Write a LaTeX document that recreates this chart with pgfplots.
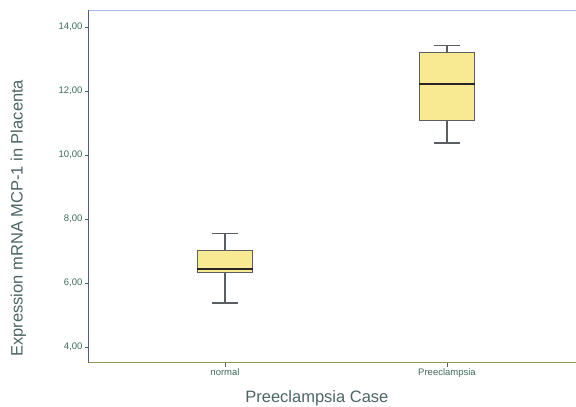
\documentclass[border=0pt]{standalone}
\usepackage{pgfplots}
\pgfplotsset{compat=1.18}
\usepackage{fontspec}
\setmainfont{Liberation Sans}

\definecolor{boxfill}{HTML}{F7EA92}
\definecolor{boxedge}{HTML}{5A5E62}
\definecolor{tickcol}{HTML}{3E6A5C}
\definecolor{labcol}{HTML}{4C6464}
\definecolor{leftcol}{HTML}{56606A}
\definecolor{bottomcol}{HTML}{8C9A58}
\definecolor{topcol}{HTML}{A9B8E6}

\begin{document}
\begin{tikzpicture}
\begin{axis}[
    name=ax,
    scale only axis,
    width=487pt, height=353pt,
    xmin=0.3874, xmax=2.581,
    ymin=3.5, ymax=14.53,
    clip=false,
    axis line style={draw=none},
    xtick={1,2},
    xticklabels={normal,Preeclampsia},
    ytick={4,6,8,10,12,14},
    xtick pos=bottom, ytick pos=left,
    tick align=outside,
    major tick length=4pt,
    every tick/.style={draw=leftcol, line width=0.9pt},
    /pgf/number format/fixed,
    /pgf/number format/fixed zerofill,
    /pgf/number format/precision=2,
    /pgf/number format/use comma,
    /pgf/number format/assume math mode=true,
    yticklabel style={font=\fontsize{9.5}{11}\selectfont, text=tickcol, xshift=1pt},
    xticklabel style={font=\fontsize{9.5}{11}\selectfont, text=tickcol, yshift=2pt},
    xlabel={Preeclampsia Case},
    ylabel={Expression mRNA MCP-1 in Placenta},
    label style={font=\fontsize{16.5}{18}\selectfont, text=labcol},
    xlabel style={at={(axis description cs:0.468,-0.099)}, anchor=center},
    ylabel style={at={(axis description cs:-0.145,0.41)}, anchor=center},
    whisk/.style={draw=boxedge, line width=1.1pt, mark=none},
    box/.style={draw=boxedge, fill=boxfill, line width=0.9pt, mark=none},
    med/.style={draw=black!85, line width=1.7pt, mark=none},
]
% normal: lw 5.375, q1 6.34, med 6.44, q3 7.03, uw 7.56
\addplot[whisk] coordinates {(1,7.03) (1,7.56)};
\addplot[whisk] coordinates {(1,6.34) (1,5.375)};
\addplot[whisk] coordinates {(0.9415,7.56) (1.0585,7.56)};
\addplot[whisk] coordinates {(0.9415,5.375) (1.0585,5.375)};
\addplot[box] coordinates {(0.875,6.34) (1.125,6.34) (1.125,7.03) (0.875,7.03)} -- cycle;
\addplot[med] coordinates {(0.875,6.44) (1.125,6.44)};
% preeclampsia: lw 10.375, q1 11.09, med 12.22, q3 13.19, uw 13.41
\addplot[whisk] coordinates {(2,13.19) (2,13.41)};
\addplot[whisk] coordinates {(2,11.09) (2,10.375)};
\addplot[whisk] coordinates {(1.9415,13.41) (2.0585,13.41)};
\addplot[whisk] coordinates {(1.9415,10.375) (2.0585,10.375)};
\addplot[box] coordinates {(1.875,11.09) (2.125,11.09) (2.125,13.19) (1.875,13.19)} -- cycle;
\addplot[med] coordinates {(1.875,12.22) (2.125,12.22)};
\draw[leftcol, line width=1pt] (axis description cs:0,0) -- (axis description cs:0,1);
\draw[bottomcol, line width=1pt] (axis description cs:0,0) -- (axis description cs:1,0);
\draw[topcol, line width=0.7pt] (axis description cs:0,1) -- (axis description cs:1,1);
\end{axis}
\pgfresetboundingbox
\path ([shift={(-89pt,-44pt)}]ax.south west) rectangle ([shift={(0pt,10pt)}]ax.north east);
\end{tikzpicture}
\end{document}
